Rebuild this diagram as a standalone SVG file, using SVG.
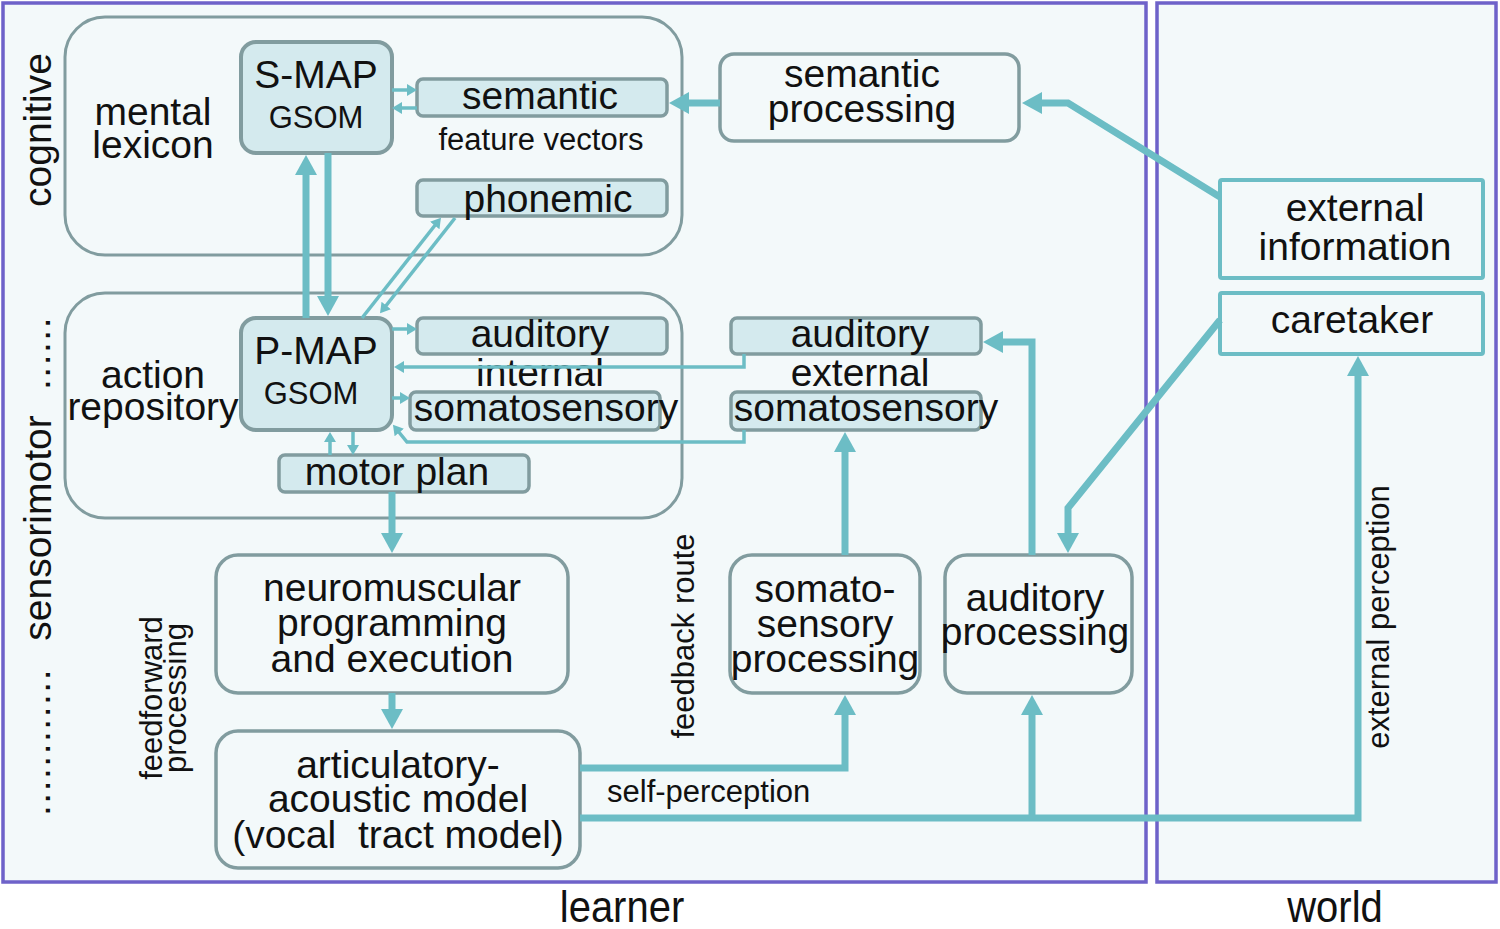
<svg xmlns="http://www.w3.org/2000/svg" width="1500" height="929" viewBox="0 0 1500 929">
<style>
text{font-family:"Liberation Sans",Arial,sans-serif;fill:#111}
.t{font-size:39px;text-anchor:middle}
.s{font-size:31px;text-anchor:middle}
.frame{fill:#f3f9fa;stroke:#6e62c9;stroke-width:3.5}
.grp{fill:#f3f9fa;stroke:#819c9f;stroke-width:3}
.map{fill:#d4eaee;stroke:#819c9f;stroke-width:4}
.sub{fill:#d4eaee;stroke:#819c9f;stroke-width:3.5}
.box{fill:#f3f9fa;stroke:#819c9f;stroke-width:3.5}
.ext{fill:#f3f9fa;stroke:#6cbdc5;stroke-width:4}
.c{fill:none;stroke:#6cbdc5;stroke-width:7;stroke-linejoin:miter}
.ct{fill:none;stroke:#6cbdc5;stroke-width:3.5}
</style>
<defs>
<marker id="ah" markerUnits="userSpaceOnUse" markerWidth="24" markerHeight="24" refX="4" refY="12" orient="auto"><path d="M0,1 L20,12 L0,23 z" fill="#6cbdc5"/></marker>
<marker id="as" markerUnits="userSpaceOnUse" markerWidth="14" markerHeight="14" refX="2" refY="7" orient="auto"><path d="M0,1 L10,7 L0,13 z" fill="#6cbdc5"/></marker>
</defs>
<rect width="1500" height="929" fill="#ffffff"/>
<g id="learner-frame"><rect class="frame" x="3" y="3" width="1143" height="879"/></g>
<g id="world-frame"><rect class="frame" x="1157" y="3" width="339" height="879"/></g>
<text font-size="40" text-anchor="middle" transform="translate(622,922) scale(1,1.1)">learner</text>
<text font-size="40" text-anchor="middle" transform="translate(1335,922) scale(1,1.1)">world</text>

<g id="side-labels">
<text class="t" transform="translate(51,130) rotate(-90)">cognitive</text>
<text class="t" transform="translate(51,528) rotate(-90)">sensorimotor</text>
<text class="t" transform="translate(50,353) rotate(-90)" letter-spacing="1.5">......</text>
<text class="t" transform="translate(50,742) rotate(-90)" letter-spacing="1.5">............</text>
<text class="s" transform="translate(162,698) rotate(-90)">feedforward</text>
<text class="s" transform="translate(186,698) rotate(-90)">processing</text>
<text class="s" transform="translate(694,636) rotate(-90)">feedback route</text>
<text class="s" transform="translate(1389,617) rotate(-90)">external perception</text>
<text x="607" y="802" font-size="31">self-perception</text>
</g>

<g id="mental-lexicon"><rect class="grp" x="65" y="17" width="617" height="238" rx="40"/>
<text class="t" x="153" y="125">mental</text><text class="t" x="153" y="158">lexicon</text></g>
<g id="action-repository"><rect class="grp" x="65" y="293" width="617" height="225" rx="40"/>
<text class="t" x="153" y="388">action</text><text class="t" x="153" y="420">repository</text></g>

<g id="s-map"><rect class="map" x="241" y="42" width="151" height="111" rx="15"/>
<text class="t" x="316" y="88">S-MAP</text><text class="s" x="316" y="128">GSOM</text></g>
<g id="semantic"><rect class="sub" x="417" y="79" width="250" height="37" rx="6"/>
<text class="t" x="540" y="109">semantic</text></g>
<text class="s" x="541" y="150" font-size="30">feature vectors</text>
<g id="phonemic"><rect class="sub" x="417" y="180" width="250" height="36" rx="6"/>
<text class="t" x="548" y="212">phonemic</text></g>

<g id="p-map"><rect class="map" x="241" y="318" width="151" height="112" rx="15"/>
<text class="t" x="316" y="364">P-MAP</text><text class="s" x="311" y="404">GSOM</text></g>
<g id="auditory-internal"><rect class="sub" x="417" y="318" width="250" height="36" rx="6"/>
<text class="t" x="540" y="347">auditory</text></g>
<text class="t" x="540" y="386">internal</text>
<g id="somatosensory-internal"><rect class="sub" x="410" y="392" width="250" height="38" rx="6"/>
<text class="t" x="546" y="421">somatosensory</text></g>
<g id="motor-plan"><rect class="sub" x="279" y="455" width="250" height="37" rx="6"/>
<text class="t" x="397" y="485">motor plan</text></g>

<g id="auditory-external"><rect class="sub" x="731" y="318" width="250" height="36" rx="6"/>
<text class="t" x="860" y="347">auditory</text></g>
<text class="t" x="860" y="386">external</text>
<g id="somatosensory-external"><rect class="sub" x="731" y="392" width="250" height="38" rx="6"/>
<text class="t" x="866" y="421">somatosensory</text></g>

<g id="semantic-processing"><rect class="box" x="720" y="54" width="299" height="87" rx="14"/>
<text class="t" x="862" y="87">semantic</text><text class="t" x="862" y="122">processing</text></g>
<g id="external-information"><rect class="ext" x="1220" y="180" width="263" height="98" rx="2"/>
<text class="t" x="1355" y="221">external</text><text class="t" x="1355" y="260">information</text></g>
<g id="caretaker"><rect class="ext" x="1220" y="293" width="263" height="61" rx="2"/>
<text class="t" x="1352" y="333">caretaker</text></g>

<g id="neuromuscular"><rect class="box" x="216" y="555" width="352" height="138" rx="22"/>
<text class="t" x="392" y="601">neuromuscular</text><text class="t" x="392" y="636">programming</text><text class="t" x="392" y="672">and execution</text></g>
<g id="articulatory"><rect class="box" x="216" y="731" width="364" height="137" rx="22"/>
<text class="t" x="398" y="778">articulatory-</text><text class="t" x="398" y="812">acoustic model</text><text class="t" x="398" y="848" xml:space="preserve">(vocal  tract model)</text></g>
<g id="somato-processing"><rect class="box" x="730" y="555" width="190" height="138" rx="22"/>
<text class="t" x="825" y="602">somato-</text><text class="t" x="825" y="637">sensory</text><text class="t" x="825" y="672">processing</text></g>
<g id="auditory-processing"><rect class="box" x="945" y="555" width="187" height="138" rx="22"/>
<text class="t" x="1035" y="611">auditory</text><text class="t" x="1035" y="645">processing</text></g>

<g id="connectors">
<path class="c" d="M306,318 L306,171" marker-end="url(#ah)"/>
<path class="c" d="M328,153 L328,300" marker-end="url(#ah)"/>
<path class="c" d="M720,103 L685,103" marker-end="url(#ah)"/>
<path class="c" d="M1220,197 L1068,103 L1038,103" marker-end="url(#ah)"/>
<path class="c" d="M1220,320 L1068,508 L1068,537" marker-end="url(#ah)"/>
<path class="c" d="M1032,555 L1032,342 L999,342" marker-end="url(#ah)"/>
<path class="c" d="M845,555 L845,448" marker-end="url(#ah)"/>
<path class="c" d="M392,492 L392,537" marker-end="url(#ah)"/>
<path class="c" d="M392,693 L392,713" marker-end="url(#ah)"/>
<path class="c" d="M580,768 L845,768 L845,711" marker-end="url(#ah)"/>
<path class="c" d="M580,818 L1358,818 L1358,372" marker-end="url(#ah)"/>
<path class="c" d="M1032,818 L1032,711" marker-end="url(#ah)"/>
<path class="ct" d="M392,90 L409,90" marker-end="url(#as)"/>
<path class="ct" d="M417,108 L400,108" marker-end="url(#as)"/>
<path class="ct" d="M362,318 L436,224" marker-end="url(#as)"/>
<path class="ct" d="M455,218 L385,307" marker-end="url(#as)"/>
<path class="ct" d="M392,329 L409,329" marker-end="url(#as)"/>
<path class="ct" d="M392,398 L402,398" marker-end="url(#as)"/>
<path class="ct" d="M744,354 L744,367 L402,367" marker-end="url(#as)"/>
<path class="ct" d="M744,430 L744,442 L407,442 L398,431" marker-end="url(#as)"/>
<path class="ct" d="M330,455 L330,440" marker-end="url(#as)"/>
<path class="ct" d="M353,432 L353,447" marker-end="url(#as)"/>
</g>
</svg>
